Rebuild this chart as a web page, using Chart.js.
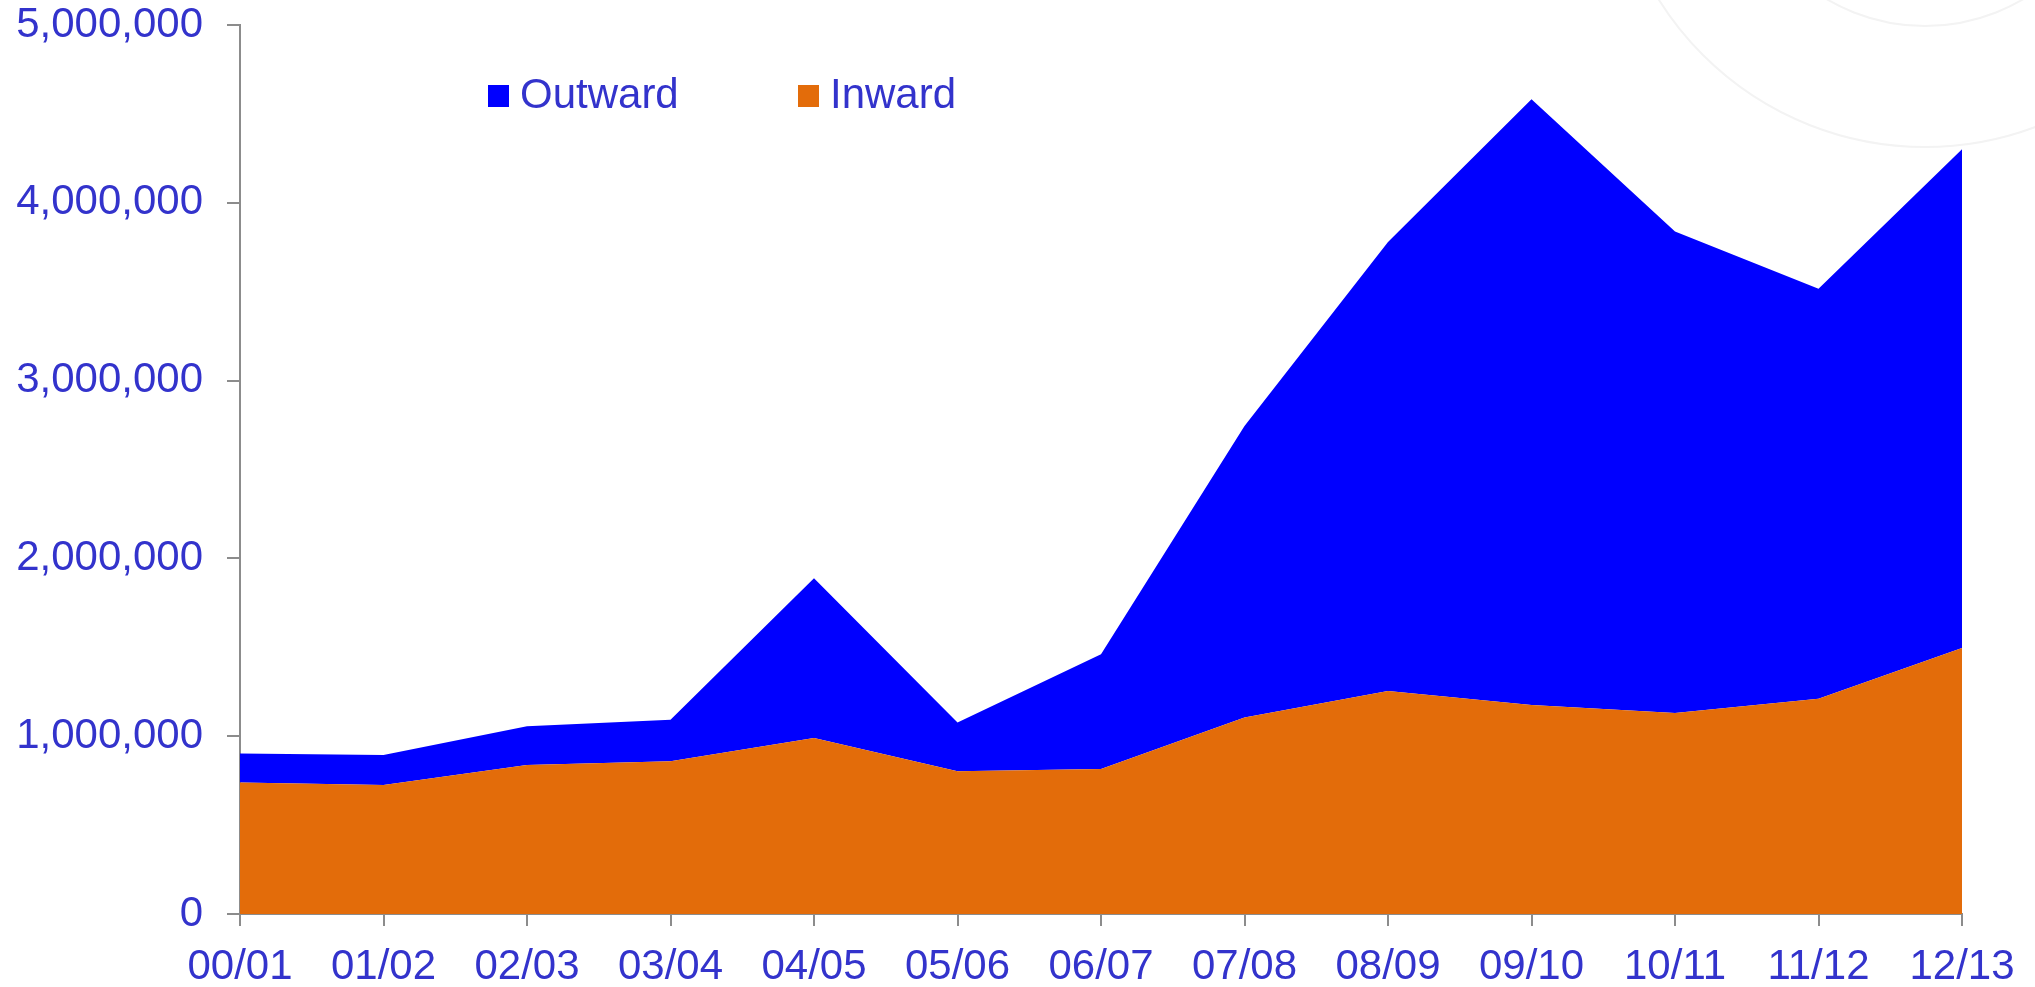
<!DOCTYPE html>
<html>
<head>
<meta charset="utf-8">
<title>Outward / Inward</title>
<script src="https://cdn.jsdelivr.net/npm/chart.js@4.4.1/dist/chart.umd.min.js"></script>
<style>
  html, body { margin: 0; padding: 0; background: #fff; }
  #wrap { width: 2035px; height: 987px; position: relative; }
</style>
</head>
<body>
<div id="wrap"><canvas id="chart"></canvas></div>
<script>
// values
const years = ['00/01', '01/02', '02/03', '03/04', '04/05', '05/06', '06/07',
               '07/08', '08/09', '09/10', '10/11', '11/12', '12/13'];
const inward = [739000, 725000, 838000, 859000, 990000, 803000, 816000,
                1105000, 1254000, 1175000, 1130000, 1210000, 1496000];
const outward = [163000, 169000, 218000, 233000, 899000, 274000, 645000,
                 1640000, 2525000, 3408000, 2709000, 2306000, 2805000];
const yTicks = [0, 1000000, 2000000, 3000000, 4000000, 5000000];

const textColor = '#3333cc';
const axisColor = '#8c8c8c';
const font = { family: '"Liberation Sans", Arial, sans-serif', size: 42, lineHeight: 1 };

// faint rings in the top right corner
const rings = {
    id: 'rings',
    beforeDraw(chart) {
        const c = chart.ctx;
        c.save();
        c.strokeStyle = '#f3f3f3';
        c.lineWidth = 2;
        [314, 193].forEach(r => {
            c.beginPath();
            c.arc(1925, -167, r, 0, Math.PI * 2);
            c.stroke();
        });
        c.restore();
    }
};

// legend drawn in the plot, Outward first
const legendBox = {
    id: 'legendBox',
    afterDraw(chart) {
        const c = chart.ctx;
        const items = [chart.data.datasets[1], chart.data.datasets[0]];
        const xs = [488, 798];
        c.save();
        c.font = '42px "Liberation Sans", Arial, sans-serif';
        c.textBaseline = 'middle';
        items.forEach((ds, i) => {
            c.fillStyle = ds.backgroundColor;
            c.fillRect(xs[i], 85, 21, 22);
            c.fillStyle = textColor;
            c.fillText(ds.label, xs[i] + 32, 96);
        });
        c.restore();
    }
};

new Chart(document.getElementById('chart'), {
    type: 'line',
    data: {
        labels: years,
        datasets: [{
            label: 'Inward',
            data: inward,
            backgroundColor: '#e36c0a',
            borderWidth: 0,
            pointRadius: 0,
            fill: 'origin'
        }, {
            label: 'Outward',
            data: outward,
            backgroundColor: '#0000ff',
            borderWidth: 0,
            pointRadius: 0,
            fill: '-1'
        }]
    },
    options: {
        responsive: true,
        maintainAspectRatio: false,
        animation: false,
        layout: { padding: { left: 0, right: 73, top: 25, bottom: 0 } },
        plugins: {
            legend: { display: false },
            tooltip: { enabled: false }
        },
        elements: { line: { tension: 0 } },
        scales: {
            x: {
                offset: false,
                grid: { drawOnChartArea: false, color: axisColor, lineWidth: 2, tickLength: 12 },
                border: { color: axisColor, width: 2 },
                ticks: { color: textColor, font: font, padding: 20, maxRotation: 0, autoSkip: false },
                afterFit: axis => {
                    axis.height = 73;
                    axis.paddingLeft = 0;
                    axis.paddingRight = 0;
                }
            },
            y: {
                stacked: true,
                min: 0,
                max: 5000000,
                afterBuildTicks: axis => { axis.ticks = yTicks.map(v => ({ value: v })); },
                grid: { drawOnChartArea: false, color: axisColor, lineWidth: 2, tickLength: 13 },
                border: { color: axisColor, width: 2 },
                ticks: {
                    color: textColor,
                    font: font,
                    padding: 24,
                    callback: v => v.toLocaleString('en-US')
                },
                afterFit: axis => {
                    axis.width = 240;
                    axis.paddingTop = 0;
                    axis.paddingBottom = 0;
                }
            }
        }
    },
    plugins: [rings, legendBox]
});
</script>
</body>
</html>
